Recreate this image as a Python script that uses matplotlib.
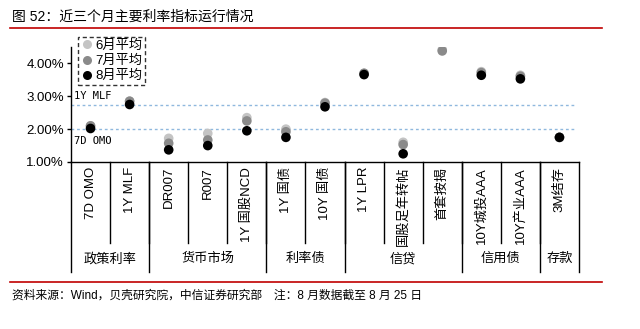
import matplotlib
matplotlib.use("Agg")
import matplotlib.pyplot as plt
import numpy as np
from matplotlib.lines import Line2D

plt.rcParams['font.family'] = ['Liberation Sans', 'Noto Sans CJK SC']

categories = ["7D OMO", "1Y MLF", "DR007", "R007", "1Y 国股NCD", "1Y 国债", "10Y 国债",
              "1Y LPR", "国股足年转帖", "首套按揭", "10Y城投AAA", "10Y产业AAA", "3M结存"]
groups = ["政策利率", "货币市场", "利率债", "信贷", "信用债", "存款"]
group_sizes = [2, 3, 2, 3, 2, 1]

jun = [2.10, 2.85, 1.72, 1.87, 2.35, 2.00, 2.81, 3.70, 1.60, 4.42, 3.75, 3.64, 1.75]
jul = [2.10, 2.85, 1.57, 1.67, 2.25, 1.92, 2.79, 3.70, 1.53, 4.38, 3.72, 3.61, 1.75]
aug = [2.02, 2.75, 1.37, 1.50, 1.95, 1.75, 2.68, 3.66, 1.25, np.nan, 3.64, 3.53, 1.75]
series_names = ["6月平均", "7月平均", "8月平均"]
ref_lines = {"1Y MLF": 2.75, "7D OMO": 2.00}
yticks = [1.0, 2.0, 3.0, 4.0]

W, H = 640, 329
fig = plt.figure(figsize=(W / 100, H / 100), dpi=100)
ax_l, ax_r, ax_b, ax_t = 71, 579, 162, 47
ax = fig.add_axes([ax_l / W, 1 - ax_b / H, (ax_r - ax_l) / W, (ax_b - ax_t) / H])

n = len(categories)
x = np.arange(n)
colors = ["#c4c4c4", "#8a8a8a", "#000000"]
for vals, c, name in zip([jun, jul, aug], colors, series_names):
    ax.scatter(x, vals, s=48, color=c, zorder=3, label=name, edgecolors='none')

ax.set_xlim(-0.5, n - 0.5)
ax.set_ylim(1.0, 4.5)
ax.set_yticks(yticks)
ax.set_yticklabels([f"{v:.2f}%" for v in yticks], fontsize=9.5)
ax.set_xticks([])
for s in ["top", "right"]:
    ax.spines[s].set_visible(False)
ax.spines["left"].set_linewidth(1.0)
ax.spines["bottom"].set_linewidth(1.0)
ax.tick_params(axis='y', direction='out', length=3, width=1, pad=2)

# reference dotted lines
for name, val in ref_lines.items():
    ax.plot([-0.5, n - 0.6], [val, val], linestyle=(0, (2, 2)), color="#8fb8de", lw=1.0, zorder=1)
ax.text(-0.42, 2.75 + 0.1, "1Y MLF", fontsize=7.5, family="DejaVu Sans Mono", va='bottom', ha='left')
ax.text(-0.42, 2.0 - 0.22, "7D OMO", fontsize=7.5, family="DejaVu Sans Mono", va='top', ha='left')

# legend
handles = [Line2D([], [], marker='o', linestyle='none', markersize=6.5, color=c, markeredgewidth=0) for c in colors]
leg = ax.legend(handles, series_names, loc='upper left', bbox_to_anchor=(0.014, 1.085),
                fontsize=9.5, frameon=True, handletextpad=0.1, handlelength=1.0,
                borderpad=0.2, labelspacing=0.22, borderaxespad=0, fancybox=False)
fr = leg.get_frame()
fr.set_edgecolor('black'); fr.set_linestyle((0, (3, 2))); fr.set_linewidth(1.0)

# category table
axh = ax_b - ax_t
def yfrac(py):
    return (ax_b - py) / axh
for i in range(1, n):
    ax.plot([(i) / n, i / n], [0, yfrac(243)], transform=ax.transAxes, color='black', lw=1.0, clip_on=False)
bounds = np.cumsum([0] + group_sizes)
for b in bounds:
    ax.plot([b / n, b / n], [0, yfrac(272)], transform=ax.transAxes, color='black', lw=1.0, clip_on=False)
for i, lab in enumerate(categories):
    ax.text((i + 0.5) / n, yfrac(167), lab, rotation=90, ha='center', va='top',
            transform=ax.transAxes, fontsize=9.5)
for g, s0, s1 in zip(groups, bounds[:-1], bounds[1:]):
    ax.text((s0 + s1) / 2 / n, yfrac(259), g, ha='center', va='center', transform=ax.transAxes, fontsize=9.5)

# title and source
fig.text(12 / W, 1 - 17 / H, "图 52：近三个月主要利率指标运行情况", fontsize=10, va='center', ha='left')
fig.add_artist(Line2D([10 / W, 602 / W], [1 - 28 / H, 1 - 28 / H], color='#c00000', lw=1.2))
fig.add_artist(Line2D([10 / W, 602 / W], [1 - 282 / H, 1 - 282 / H], color='#c00000', lw=1.2))
fig.text(12 / W, 1 - 296 / H, "资料来源：Wind，贝壳研究院，中信证券研究部　注：8 月数据截至 8 月 25 日",
         fontsize=8.5, va='center', ha='left')

fig.savefig("out.png", dpi=100)
